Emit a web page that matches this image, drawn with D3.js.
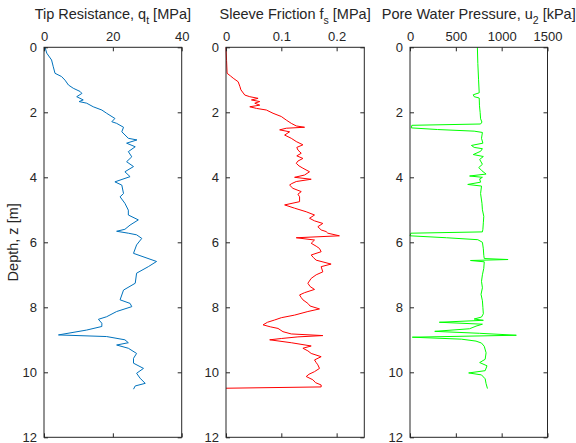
<!DOCTYPE html>
<html>
<head>
<meta charset="utf-8">
<script src="https://cdn.jsdelivr.net/npm/d3@7"></script>
<style>
  body { margin: 0; background: #fff; }
  svg { display: block; font-family: "Liberation Sans", Arial, sans-serif; }
</style>
</head>
<body>
<div id="chart"></div>
<script>
// depth ticks shared by all three panels
const depthTicks = [0, 2, 4, 6, 8, 10, 12];

// tip resistance qt [MPa]
const qtDepth = [0, 0.18, 0.39, 0.6, 0.8, 0.9, 1.01, 1.16, 1.26, 1.36, 1.42, 1.52, 1.62, 1.67, 1.72, 1.83, 1.93, 2.03, 2.19, 2.29, 2.34, 2.46, 2.6, 2.8, 2.85, 2.95, 3.06, 3.21, 3.37, 3.52, 3.67, 3.83, 3.98, 4.14, 4.24, 4.5, 4.6, 4.8, 5.01, 5.16, 5.31, 5.47, 5.6, 5.66, 5.72, 5.77, 5.88, 6.08, 6.34, 6.59, 6.75, 6.95, 7.26, 7.47, 7.77, 7.88, 7.98, 8.13, 8.29, 8.37, 8.49, 8.59, 8.7, 8.85, 8.9, 9.0, 9.09, 9.16, 9.26, 9.42, 9.57, 9.72, 9.88, 10.03, 10.18, 10.34, 10.42, 10.52];
const qtValues = [0.3, 0.8, 2.2, 2.7, 3.2, 5.1, 6.1, 7.1, 8.5, 10.5, 11, 9.5, 11.4, 10.2, 12.4, 14.3, 16.8, 18.2, 20.6, 19.7, 21.1, 23.1, 22.6, 24.5, 27, 24, 26.5, 24.5, 25.5, 24, 26, 23.5, 25, 20.6, 22.6, 23.1, 22.1, 23.5, 24.5, 24.5, 27.4, 25, 23.5, 21.1, 24.5, 26.9, 28.4, 26.9, 26, 32.7, 30.3, 26.9, 26.5, 23.1, 22.1, 25, 25.5, 21.1, 18.2, 15.8, 16.8, 16.8, 12.4, 4.2, 18.2, 23.5, 24.5, 21.1, 24.5, 26.9, 26, 26, 28.9, 26.9, 27.9, 29.4, 26.5, 26];

// sleeve friction fs [MPa]
const fsDepth = [0, 0.4, 0.8, 0.88, 0.95, 1.06, 1.2, 1.31, 1.47, 1.52, 1.57, 1.62, 1.67, 1.72, 1.78, 1.83, 1.88, 1.93, 2.03, 2.13, 2.24, 2.34, 2.42, 2.46, 2.49, 2.54, 2.6, 2.7, 2.8, 2.9, 3.0, 3.08, 3.16, 3.26, 3.34, 3.42, 3.5, 3.57, 3.65, 3.72, 3.83, 3.93, 4.0, 4.06, 4.13, 4.2, 4.24, 4.34, 4.44, 4.52, 4.6, 4.75, 4.85, 4.95, 5.06, 5.16, 5.26, 5.34, 5.42, 5.52, 5.62, 5.67, 5.72, 5.8, 5.86, 5.93, 6.03, 6.12, 6.19, 6.29, 6.39, 6.47, 6.55, 6.67, 6.75, 6.91, 7.0, 7.11, 7.26, 7.36, 7.45, 7.55, 7.62, 7.7, 7.77, 7.88, 7.96, 8.05, 8.13, 8.24, 8.32, 8.39, 8.46, 8.54, 8.6, 8.65, 8.75, 8.82, 8.87, 8.91, 8.96, 9.0, 9.09, 9.19, 9.26, 9.34, 9.42, 9.52, 9.62, 9.7, 9.77, 9.88, 9.98, 10.06, 10.13, 10.23, 10.32, 10.39, 10.45, 10.49];
const fsValues = [0, 0.001, 0.002, 0.008, 0.013, 0.022, 0.025, 0.027, 0.034, 0.043, 0.058, 0.046, 0.061, 0.052, 0.061, 0.043, 0.055, 0.073, 0.085, 0.1, 0.109, 0.118, 0.127, 0.142, 0.109, 0.097, 0.115, 0.106, 0.118, 0.127, 0.139, 0.128, 0.13, 0.136, 0.128, 0.139, 0.13, 0.127, 0.132, 0.139, 0.151, 0.142, 0.124, 0.154, 0.127, 0.118, 0.115, 0.121, 0.136, 0.13, 0.133, 0.133, 0.106, 0.124, 0.145, 0.16, 0.151, 0.16, 0.175, 0.166, 0.172, 0.181, 0.184, 0.205, 0.127, 0.16, 0.154, 0.163, 0.169, 0.172, 0.154, 0.158, 0.163, 0.19, 0.172, 0.175, 0.163, 0.154, 0.148, 0.152, 0.16, 0.142, 0.133, 0.136, 0.139, 0.148, 0.152, 0.169, 0.148, 0.124, 0.1, 0.088, 0.075, 0.067, 0.08, 0.094, 0.103, 0.118, 0.175, 0.13, 0.1, 0.079, 0.118, 0.154, 0.139, 0.148, 0.154, 0.172, 0.16, 0.163, 0.166, 0.169, 0.16, 0.15, 0.145, 0.157, 0.162, 0.172, 0.172, 0];

// pore water pressure u2 [kPa]
const u2Depth = [0, 0.5, 1.0, 1.4, 1.46, 1.52, 1.56, 1.8, 2.0, 2.2, 2.3, 2.36, 2.4, 2.48, 2.53, 2.58, 2.62, 2.8, 2.95, 3.02, 3.08, 3.12, 3.2, 3.3, 3.36, 3.45, 3.6, 3.7, 3.8, 3.9, 3.96, 4.0, 4.05, 4.15, 4.22, 4.27, 4.5, 4.8, 5.0, 5.2, 5.4, 5.6, 5.68, 5.72, 5.8, 5.86, 5.92, 6.0, 6.2, 6.4, 6.5, 6.53, 6.56, 6.6, 6.8, 7.0, 7.2, 7.4, 7.6, 7.8, 8.0, 8.2, 8.3, 8.36, 8.4, 8.46, 8.52, 8.58, 8.66, 8.74, 8.8, 8.86, 8.92, 8.98, 9.04, 9.1, 9.2, 9.4, 9.6, 9.7, 9.8, 9.95, 10.02, 10.08, 10.2, 10.35, 10.5];
const u2Values = [735, 740, 748, 755, 690, 700, 755, 758, 765, 770, 785, 770, 20, 15, 300, 700, 790, 780, 795, 670, 700, 790, 770, 690, 800, 760, 790, 750, 785, 830, 650, 790, 760, 770, 630, 780, 770, 785, 790, 805, 800, 795, 790, 10, 0, 400, 740, 790, 800, 805, 810, 1070, 660, 810, 805, 790, 780, 790, 775, 790, 795, 800, 780, 700, 800, 320, 790, 720, 650, 270, 760, 1160, 25, 560, 720, 780, 810, 830, 820, 760, 840, 820, 640, 780, 820, 830, 845];

const width = 576;
const height = 443;
const plotTop = 47.3;
const plotBottom = 437.3;
const textColor = "#262626";

const panels = [
  { x0: 44, x1: 181.7, domain: [0, 40], ticks: [0, 20, 40],
    title: ["Tip Resistance, q", "t", " [MPa]"], color: "#0072BD", depth: qtDepth, values: qtValues },
  { x0: 226, x1: 364.3, domain: [0, 0.25], ticks: [0, 0.1, 0.2],
    title: ["Sleeve Friction f", "s", " [MPa]"], color: "#FF0000", depth: fsDepth, values: fsValues },
  { x0: 410, x1: 547.5, domain: [0, 1500], ticks: [0, 500, 1000, 1500],
    title: ["Pore Water Pressure, u", "2", " [kPa]"], color: "#00FF00", depth: u2Depth, values: u2Values },
];

const svg = d3.select("#chart").append("svg").attr("width", width).attr("height", height);

const yScale = d3.scaleLinear().domain([0, 12]).range([plotTop, plotBottom]);

const styleAxis = (sel) => {
  sel.select(".domain").remove();
  sel.selectAll(".tick line").attr("stroke", textColor);
  sel.selectAll(".tick text")
    .attr("fill", textColor)
    .style("font-size", "13px")
    .style("font-family", '"Liberation Sans", Arial, sans-serif');
};

panels.forEach((p) => {
  const xScale = d3.scaleLinear().domain(p.domain).range([p.x0, p.x1]);
  const g = svg.append("g");

  // data line
  const pts = p.depth.map((d, i) => [p.values[i], d]);
  g.append("path")
    .datum(pts)
    .attr("fill", "none")
    .attr("stroke", p.color)
    .attr("stroke-width", 1)
    .attr("stroke-linejoin", "round")
    .attr("d", d3.line().x((d) => xScale(d[0])).y((d) => yScale(d[1])));

  // top axis with labels, ticks pointing inward
  g.append("g")
    .attr("transform", `translate(0,${plotTop})`)
    .call(d3.axisTop(xScale).tickValues(p.ticks).tickFormat((d) => d).tickSizeInner(-4).tickSizeOuter(0).tickPadding(6))
    .call(styleAxis);

  // bottom mirror ticks
  g.append("g")
    .attr("transform", `translate(0,${plotBottom})`)
    .call(d3.axisBottom(xScale).tickValues(p.ticks).tickFormat("").tickSizeInner(-4).tickSizeOuter(0))
    .call(styleAxis);

  // left depth axis
  g.append("g")
    .attr("transform", `translate(${p.x0},0)`)
    .call(d3.axisLeft(yScale).tickValues(depthTicks).tickSizeInner(-4).tickSizeOuter(0).tickPadding(7))
    .call(styleAxis);

  // right mirror ticks
  g.append("g")
    .attr("transform", `translate(${p.x1},0)`)
    .call(d3.axisRight(yScale).tickValues(depthTicks).tickFormat("").tickSizeInner(-4).tickSizeOuter(0))
    .call(styleAxis);

  // box
  g.append("rect")
    .attr("x", p.x0)
    .attr("y", plotTop)
    .attr("width", p.x1 - p.x0)
    .attr("height", plotBottom - plotTop)
    .attr("fill", "none")
    .attr("stroke", textColor)
    .attr("stroke-width", 1);

  // title with subscript
  const t = g.append("text")
    .attr("x", (p.x0 + p.x1) / 2)
    .attr("y", 19)
    .attr("text-anchor", "middle")
    .attr("fill", textColor)
    .style("font-size", "14.5px");
  t.append("tspan").text(p.title[0]);
  t.append("tspan").attr("dy", 5).style("font-size", "10.5px").text(p.title[1]);
  t.append("tspan").attr("dy", -5).text(p.title[2]);
});

svg.append("text")
  .attr("transform", `translate(18,${(plotTop + plotBottom) / 2}) rotate(-90)`)
  .attr("text-anchor", "middle")
  .attr("fill", textColor)
  .style("font-size", "14.5px")
  .text("Depth, z [m]");
</script>
</body>
</html>
